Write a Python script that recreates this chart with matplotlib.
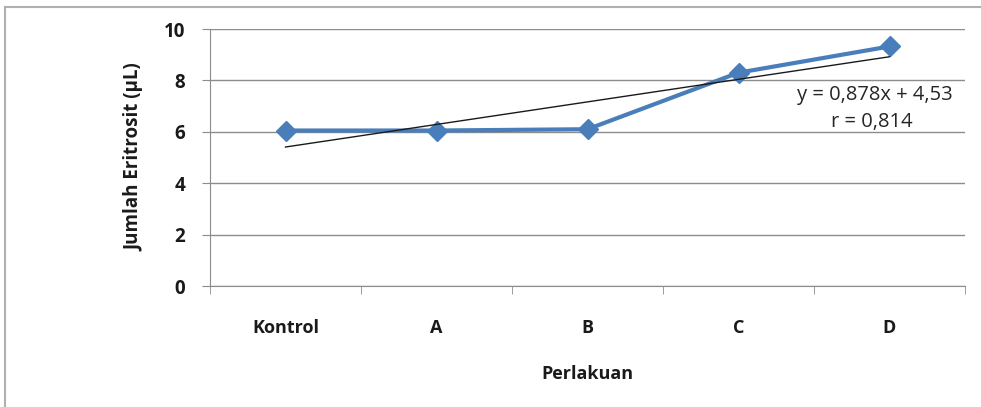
import matplotlib
matplotlib.use("Agg")
import matplotlib.pyplot as plt
import numpy as np
from matplotlib.lines import Line2D

categories = ["Kontrol", "A", "B", "C", "D"]
values = [6.05, 6.05, 6.10, 8.30, 9.32]
trend_slope = 0.878
trend_intercept = 4.53
eq_label = "y = 0,878x + 4,53"
r_label = "r = 0,814"

W, H = 981, 407
fig = plt.figure(figsize=(W/100, H/100), dpi=100)
plt.rcParams['font.family'] = ['Open Sans', 'DejaVu Sans']

ax = fig.add_axes([210/W, 1-286/H, (965-210)/W, (286-29)/H])
n = len(categories)
x = np.arange(n)
ax.set_xlim(-0.5, n-0.5)
ax.set_ylim(0, 10)
ax.set_yticks([0, 2, 4, 6, 8, 10])
ax.set_xticks(x)
ax.set_xticklabels(categories)
ax.set_xticks(np.arange(n+1)-0.5, minor=True)
ax.tick_params(axis='x', which='major', length=0, pad=24)
ax.tick_params(axis='x', which='minor', length=6, color='#8c8c8c')
ax.tick_params(axis='y', length=6, color='#8c8c8c', pad=12)
for lbl in ax.get_xticklabels() + ax.get_yticklabels():
    lbl.set_fontweight('bold')
    lbl.set_fontsize(13.5)
    lbl.set_color('#1a1a1a')
for lbl in ax.get_xticklabels():
    lbl.set_fontsize(13)
ax.grid(axis='y', color='#8c8c8c', linewidth=1)
ax.set_axisbelow(True)
for s in ['top', 'right']:
    ax.spines[s].set_visible(False)
ax.spines['left'].set_color('#8c8c8c')
ax.spines['bottom'].set_color('#8c8c8c')

ax.plot(x, values, color='#4a7ebb', linewidth=3, marker='D', markersize=10,
        markerfacecolor='#4a7ebb', markeredgecolor='#4a7ebb', zorder=3)
trend = trend_slope * (x + 1) + trend_intercept
ax.plot(x, trend, color='#1a1a1a', linewidth=1, zorder=4)

ax.text(4.42, 7.45, eq_label, ha='right', va='center', fontsize=14.5, color='#262626')
ax.text(3.88, 6.4, r_label, ha='center', va='center', fontsize=14.5, color='#262626')

ax.set_ylabel("Jumlah Eritrosit (µL)", fontsize=13.5, fontweight='bold', color='#1a1a1a', labelpad=14)
ax.set_xlabel("Perlakuan", fontsize=13, fontweight='bold', color='#1a1a1a', labelpad=20)

# outer chart border (partially visible)
fig.add_artist(Line2D([5/W, 5/W], [0, 1-7/H], transform=fig.transFigure, color='#b0b0b0', linewidth=1.5))
fig.add_artist(Line2D([5/W, 1], [1-7/H, 1-7/H], transform=fig.transFigure, color='#b0b0b0', linewidth=1.5))

fig.savefig("out.png", dpi=100)
